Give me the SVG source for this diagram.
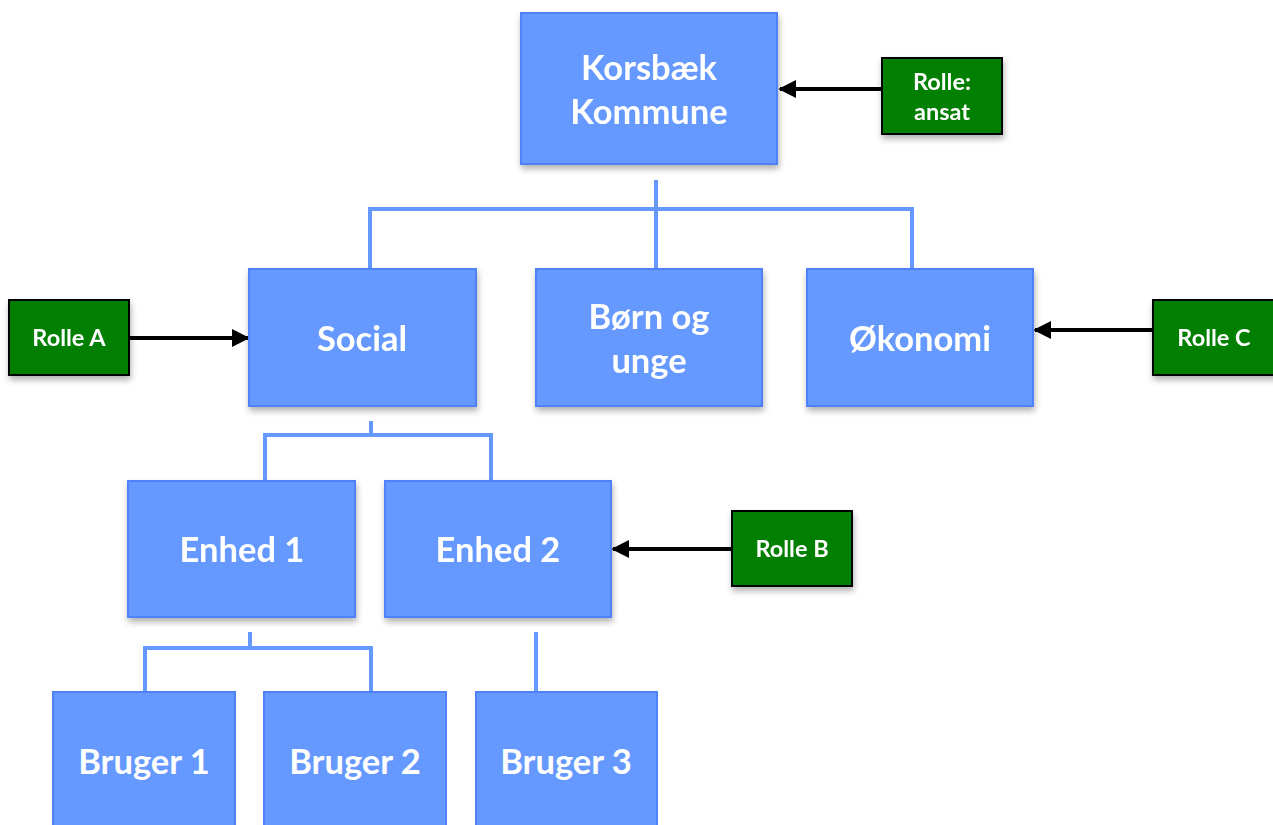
<svg xmlns="http://www.w3.org/2000/svg" width="1273" height="825" viewBox="0 0 1273 825">
<style>
.box{fill:#6699FF;stroke:#4F82FA;stroke-width:2}
.role{fill:#007F00;stroke:#000;stroke-width:2}
.t{fill:#fff;font-family:Lato,"Open Sans",sans-serif;font-weight:bold;text-anchor:middle}
.big{font-size:34.5px}
.small{font-size:23.5px}
.tree{fill:none;stroke:#6699FF;stroke-width:4}
.arr{stroke:#000;stroke-width:4;fill:none;marker-end:url(#ah)}
</style>
<defs>
<filter id="sh" x="-10%" y="-10%" width="130%" height="130%">
<feDropShadow dx="1" dy="4" stdDeviation="3" flood-color="#000" flood-opacity="0.3"/>
</filter>
<marker id="ah" viewBox="0 0 10 10" refX="9" refY="5" markerWidth="4.5" markerHeight="4.5" orient="auto" markerUnits="strokeWidth">
<path d="M0,0 L10,5 L0,10 z" fill="#000"/>
</marker>
</defs>
<rect width="1273" height="825" fill="#fff"/>
<g id="connectors">
<path class="tree" d="M656,180 V209 M370,209 H913 M370,207 V270 M656,209 V270 M912,207 V270"/>
<path class="tree" d="M371,421 V435 M264,435 H493 M265,433 V481 M491,433 V481"/>
<path class="tree" d="M250,632 V648 M144,648 H373 M145,646 V692 M371,646 V692"/>
<path class="tree" d="M536,632 V692"/>
<line class="arr" x1="882" y1="89" x2="780" y2="89"/>
<line class="arr" x1="129" y1="338" x2="248" y2="338"/>
<line class="arr" x1="1153" y1="330" x2="1035" y2="330"/>
<line class="arr" x1="732" y1="549" x2="613" y2="549"/>
</g>
<g id="korsbaek" filter="url(#sh)"><rect class="box" x="521" y="13" width="256" height="151"/>
<text class="t big" x="649" y="80">Korsbæk</text><text class="t big" x="649" y="124">Kommune</text></g>
<g id="rolle-ansat" filter="url(#sh)"><rect class="role" x="882" y="58" width="120" height="76"/>
<text class="t small" x="942" y="90">Rolle:</text><text class="t small" x="942" y="120">ansat</text></g>
<g id="social" filter="url(#sh)"><rect class="box" x="249" y="269" width="227" height="137"/>
<text class="t big" x="362" y="351">Social</text></g>
<g id="born" filter="url(#sh)"><rect class="box" x="536" y="269" width="226" height="137"/>
<text class="t big" x="649" y="329">Børn og</text><text class="t big" x="649" y="373">unge</text></g>
<g id="okonomi" filter="url(#sh)"><rect class="box" x="807" y="269" width="226" height="137"/>
<text class="t big" x="920" y="351">Økonomi</text></g>
<g id="rolle-a" filter="url(#sh)"><rect class="role" x="9" y="300" width="120" height="75"/>
<text class="t small" x="69" y="346">Rolle A</text></g>
<g id="rolle-c" filter="url(#sh)"><rect class="role" x="1153" y="300" width="125" height="75"/>
<text class="t small" x="1214" y="346">Rolle C</text></g>
<g id="enhed1" filter="url(#sh)"><rect class="box" x="128" y="481" width="227" height="136"/>
<text class="t big" x="242" y="562">Enhed 1</text></g>
<g id="enhed2" filter="url(#sh)"><rect class="box" x="385" y="481" width="226" height="136"/>
<text class="t big" x="498" y="562">Enhed 2</text></g>
<g id="rolle-b" filter="url(#sh)"><rect class="role" x="732" y="511" width="120" height="75"/>
<text class="t small" x="792" y="557">Rolle B</text></g>
<g id="bruger1"><rect class="box" x="53" y="692" width="182" height="140"/>
<text class="t big" x="144" y="774">Bruger 1</text></g>
<g id="bruger2"><rect class="box" x="264" y="692" width="182" height="140"/>
<text class="t big" x="355" y="774">Bruger 2</text></g>
<g id="bruger3"><rect class="box" x="476" y="692" width="181" height="140"/>
<text class="t big" x="566" y="774">Bruger 3</text></g>
</svg>
